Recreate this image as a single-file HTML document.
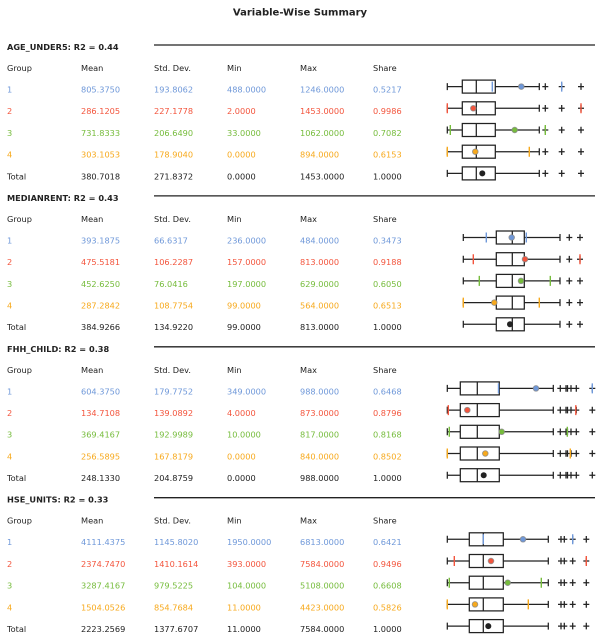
<!DOCTYPE html>
<html><head><meta charset="utf-8"><style>
html,body{margin:0;padding:0;background:#fff;}
svg{display:block;}
text{font-family:"DejaVu Sans","Liberation Sans",sans-serif;font-size:8.2px;fill:#222;}
.h{font-weight:bold;}
.c1{fill:#6f98d9}.c2{fill:#f3553d}.c3{fill:#76bc3c}.c4{fill:#f7a91c}
.bx{stroke:#222;stroke-width:1.25;fill:none}
.t1{stroke:#6f98d9;stroke-width:1.4}.t2{stroke:#f3553d;stroke-width:1.4}.t3{stroke:#76bc3c;stroke-width:1.4}.t4{stroke:#f7a91c;stroke-width:1.4}
.d{stroke:#888;stroke-width:0.9;stroke-opacity:.8}
</style></head><body>
<svg width="600" height="640" viewBox="0 0 600 640" xmlns="http://www.w3.org/2000/svg">
<defs>
<g id="b1" class="bx">
<path d="M447.3 -3.5V3.5M447.3 0H462.3M495.3 0H539.3M539.3 -3.5V3.5M476.3 -6.5V6.5M542.3 0h6M545.3 -3.3v6.6M558.7 0h6M561.7 -3.3v6.6M578 0h6M581 -3.3v6.6"/>
<rect x="462.3" y="-6.5" width="33" height="13"/>
</g>
<g id="b2" class="bx">
<path d="M463.3 -3.5V3.5M463.3 0H496.3M524.3 0H560M560 -3.5V3.5M512.3 -6.5V6.5M566.3 0h6M569.3 -3.3v6.6M577 0h6M580 -3.3v6.6"/>
<rect x="496.3" y="-6.5" width="28" height="13"/>
</g>
<g id="b3" class="bx">
<path d="M447.3 -3.5V3.5M447.3 0H460.3M499.3 0H553.3M553.3 -3.5V3.5M477.3 -6.5V6.5M557.3 0h6M560.3 -3.3v6.6M563 0h7.5M566 -3.3v6.6M567.5 -3.3v6.6M568 0h6M571 -3.3v6.6M573.3 0h6M576.3 -3.3v6.6M589.3 0h6M592.3 -3.3v6.6"/>
<rect x="460.3" y="-6.5" width="39" height="13"/>
</g>
<g id="b4" class="bx">
<path d="M447.3 -3.5V3.5M447.3 0H469.3M503.3 0H548.3M548.3 -3.5V3.5M483.3 -6.5V6.5M558 0h9.3M561 -3.3v6.6M564.3 -3.3v6.6M569.7 0h6M572.7 -3.3v6.6M583.3 0h6M586.3 -3.3v6.6"/>
<rect x="469.3" y="-6.5" width="34" height="13"/>
</g>
</defs>

<text x="300" y="15.5" text-anchor="middle" class="h" style="font-size:10px">Variable-Wise Summary</text>

<!-- Section 1 -->
<g>
<line x1="154" y1="45" x2="595" y2="45" stroke="#222" stroke-width="1.3"/>
<text x="7" y="50" class="h">AGE_UNDER5: R2 = 0.44</text>
<text x="7" y="71">Group</text><text x="81" y="71">Mean</text><text x="154" y="71">Std. Dev.</text><text x="227" y="71">Min</text><text x="300" y="71">Max</text><text x="373" y="71">Share</text>
<g><text x="7" y="92.5" class="c1">1</text><text x="81" y="92.5" class="c1">805.3750</text><text x="154" y="92.5" class="c1">193.8062</text><text x="227" y="92.5" class="c1">488.0000</text><text x="300" y="92.5" class="c1">1246.0000</text><text x="373" y="92.5" class="c1">0.5217</text></g>
<g><text x="7" y="114.2" class="c2">2</text><text x="81" y="114.2" class="c2">286.1205</text><text x="154" y="114.2" class="c2">227.1778</text><text x="227" y="114.2" class="c2">2.0000</text><text x="300" y="114.2" class="c2">1453.0000</text><text x="373" y="114.2" class="c2">0.9986</text></g>
<g><text x="7" y="135.9" class="c3">3</text><text x="81" y="135.9" class="c3">731.8333</text><text x="154" y="135.9" class="c3">206.6490</text><text x="227" y="135.9" class="c3">33.0000</text><text x="300" y="135.9" class="c3">1062.0000</text><text x="373" y="135.9" class="c3">0.7082</text></g>
<g><text x="7" y="157.6" class="c4">4</text><text x="81" y="157.6" class="c4">303.1053</text><text x="154" y="157.6" class="c4">178.9040</text><text x="227" y="157.6" class="c4">0.0000</text><text x="300" y="157.6" class="c4">894.0000</text><text x="373" y="157.6" class="c4">0.6153</text></g>
<g><text x="7" y="179.3">Total</text><text x="81" y="179.3">380.7018</text><text x="154" y="179.3">271.8372</text><text x="227" y="179.3">0.0000</text><text x="300" y="179.3">1453.0000</text><text x="373" y="179.3">1.0000</text></g>

<g transform="translate(0,86.6)"><use href="#b1"/><path class="t1" d="M492.3 -5V5M561.7 -5V5"/><circle cx="521.3" cy="0" r="2.8" class="c1 d"/></g>
<g transform="translate(0,108.3)"><use href="#b1"/><path class="t2" d="M447.3 -5V5M581 -5V5"/><circle cx="473.3" cy="0" r="2.8" class="c2 d"/></g>
<g transform="translate(0,130)"><use href="#b1"/><path class="t3" d="M450.3 -5V5M545.3 -5V5"/><circle cx="514.7" cy="0" r="2.8" class="c3 d"/></g>
<g transform="translate(0,151.7)"><use href="#b1"/><path class="t4" d="M447.3 -5V5M529.3 -5V5"/><circle cx="475.3" cy="0" r="2.8" class="c4 d"/></g>
<g transform="translate(0,173.4)"><use href="#b1"/><circle cx="482.3" cy="0" r="3" fill="#222"/></g>
</g>

<!-- Section 2 -->
<g transform="translate(0,150.9)">
<line x1="154" y1="45" x2="595" y2="45" stroke="#222" stroke-width="1.3"/>
<text x="7" y="50" class="h">MEDIANRENT: R2 = 0.43</text>
<text x="7" y="71">Group</text><text x="81" y="71">Mean</text><text x="154" y="71">Std. Dev.</text><text x="227" y="71">Min</text><text x="300" y="71">Max</text><text x="373" y="71">Share</text>
<g><text x="7" y="92.5" class="c1">1</text><text x="81" y="92.5" class="c1">393.1875</text><text x="154" y="92.5" class="c1">66.6317</text><text x="227" y="92.5" class="c1">236.0000</text><text x="300" y="92.5" class="c1">484.0000</text><text x="373" y="92.5" class="c1">0.3473</text></g>
<g><text x="7" y="114.2" class="c2">2</text><text x="81" y="114.2" class="c2">475.5181</text><text x="154" y="114.2" class="c2">106.2287</text><text x="227" y="114.2" class="c2">157.0000</text><text x="300" y="114.2" class="c2">813.0000</text><text x="373" y="114.2" class="c2">0.9188</text></g>
<g><text x="7" y="135.9" class="c3">3</text><text x="81" y="135.9" class="c3">452.6250</text><text x="154" y="135.9" class="c3">76.0416</text><text x="227" y="135.9" class="c3">197.0000</text><text x="300" y="135.9" class="c3">629.0000</text><text x="373" y="135.9" class="c3">0.6050</text></g>
<g><text x="7" y="157.6" class="c4">4</text><text x="81" y="157.6" class="c4">287.2842</text><text x="154" y="157.6" class="c4">108.7754</text><text x="227" y="157.6" class="c4">99.0000</text><text x="300" y="157.6" class="c4">564.0000</text><text x="373" y="157.6" class="c4">0.6513</text></g>
<g><text x="7" y="179.3">Total</text><text x="81" y="179.3">384.9266</text><text x="154" y="179.3">134.9220</text><text x="227" y="179.3">99.0000</text><text x="300" y="179.3">813.0000</text><text x="373" y="179.3">1.0000</text></g>

<g transform="translate(0,86.6)"><use href="#b2"/><path class="t1" d="M486.3 -5V5M526.3 -5V5"/><circle cx="511.7" cy="0" r="2.8" class="c1 d"/></g>
<g transform="translate(0,108.3)"><use href="#b2"/><path class="t2" d="M473.3 -5V5M580 -5V5"/><circle cx="525" cy="0" r="2.8" class="c2 d"/></g>
<g transform="translate(0,130)"><use href="#b2"/><path class="t3" d="M479.3 -5V5M550.3 -5V5"/><circle cx="521" cy="0" r="2.8" class="c3 d"/></g>
<g transform="translate(0,151.7)"><use href="#b2"/><path class="t4" d="M463.3 -5V5M539.3 -5V5"/><circle cx="494.3" cy="0" r="2.8" class="c4 d"/></g>
<g transform="translate(0,173.4)"><use href="#b2"/><circle cx="510" cy="0" r="3" fill="#222"/></g>
</g>

<!-- Section 3 -->
<g transform="translate(0,301.8)">
<line x1="154" y1="45" x2="595" y2="45" stroke="#222" stroke-width="1.3"/>
<text x="7" y="50" class="h">FHH_CHILD: R2 = 0.38</text>
<text x="7" y="71">Group</text><text x="81" y="71">Mean</text><text x="154" y="71">Std. Dev.</text><text x="227" y="71">Min</text><text x="300" y="71">Max</text><text x="373" y="71">Share</text>
<g><text x="7" y="92.5" class="c1">1</text><text x="81" y="92.5" class="c1">604.3750</text><text x="154" y="92.5" class="c1">179.7752</text><text x="227" y="92.5" class="c1">349.0000</text><text x="300" y="92.5" class="c1">988.0000</text><text x="373" y="92.5" class="c1">0.6468</text></g>
<g><text x="7" y="114.2" class="c2">2</text><text x="81" y="114.2" class="c2">134.7108</text><text x="154" y="114.2" class="c2">139.0892</text><text x="227" y="114.2" class="c2">4.0000</text><text x="300" y="114.2" class="c2">873.0000</text><text x="373" y="114.2" class="c2">0.8796</text></g>
<g><text x="7" y="135.9" class="c3">3</text><text x="81" y="135.9" class="c3">369.4167</text><text x="154" y="135.9" class="c3">192.9989</text><text x="227" y="135.9" class="c3">10.0000</text><text x="300" y="135.9" class="c3">817.0000</text><text x="373" y="135.9" class="c3">0.8168</text></g>
<g><text x="7" y="157.6" class="c4">4</text><text x="81" y="157.6" class="c4">256.5895</text><text x="154" y="157.6" class="c4">167.8179</text><text x="227" y="157.6" class="c4">0.0000</text><text x="300" y="157.6" class="c4">840.0000</text><text x="373" y="157.6" class="c4">0.8502</text></g>
<g><text x="7" y="179.3">Total</text><text x="81" y="179.3">248.1330</text><text x="154" y="179.3">204.8759</text><text x="227" y="179.3">0.0000</text><text x="300" y="179.3">988.0000</text><text x="373" y="179.3">1.0000</text></g>

<g transform="translate(0,86.6)"><use href="#b3"/><path class="t1" d="M498.5 -5V5M592.3 -5V5"/><circle cx="536" cy="0" r="2.8" class="c1 d"/></g>
<g transform="translate(0,108.3)"><use href="#b3"/><path class="t2" d="M448.3 -5V5M575.8 -5V5"/><circle cx="467.3" cy="0" r="2.8" class="c2 d"/></g>
<g transform="translate(0,130)"><use href="#b3"/><path class="t3" d="M449.3 -5V5M567.3 -5V5"/><circle cx="501.7" cy="0" r="2.8" class="c3 d"/></g>
<g transform="translate(0,151.7)"><use href="#b3"/><path class="t4" d="M447.3 -5V5M570.3 -5V5"/><circle cx="485.3" cy="0" r="2.8" class="c4 d"/></g>
<g transform="translate(0,173.4)"><use href="#b3"/><circle cx="483.7" cy="0" r="3" fill="#222"/></g>
</g>

<!-- Section 4 -->
<g transform="translate(0,452.7)">
<line x1="154" y1="45" x2="595" y2="45" stroke="#222" stroke-width="1.3"/>
<text x="7" y="50" class="h">HSE_UNITS: R2 = 0.33</text>
<text x="7" y="71">Group</text><text x="81" y="71">Mean</text><text x="154" y="71">Std. Dev.</text><text x="227" y="71">Min</text><text x="300" y="71">Max</text><text x="373" y="71">Share</text>
<g><text x="7" y="92.5" class="c1">1</text><text x="81" y="92.5" class="c1">4111.4375</text><text x="154" y="92.5" class="c1">1145.8020</text><text x="227" y="92.5" class="c1">1950.0000</text><text x="300" y="92.5" class="c1">6813.0000</text><text x="373" y="92.5" class="c1">0.6421</text></g>
<g><text x="7" y="114.2" class="c2">2</text><text x="81" y="114.2" class="c2">2374.7470</text><text x="154" y="114.2" class="c2">1410.1614</text><text x="227" y="114.2" class="c2">393.0000</text><text x="300" y="114.2" class="c2">7584.0000</text><text x="373" y="114.2" class="c2">0.9496</text></g>
<g><text x="7" y="135.9" class="c3">3</text><text x="81" y="135.9" class="c3">3287.4167</text><text x="154" y="135.9" class="c3">979.5225</text><text x="227" y="135.9" class="c3">104.0000</text><text x="300" y="135.9" class="c3">5108.0000</text><text x="373" y="135.9" class="c3">0.6608</text></g>
<g><text x="7" y="157.6" class="c4">4</text><text x="81" y="157.6" class="c4">1504.0526</text><text x="154" y="157.6" class="c4">854.7684</text><text x="227" y="157.6" class="c4">11.0000</text><text x="300" y="157.6" class="c4">4423.0000</text><text x="373" y="157.6" class="c4">0.5826</text></g>
<g><text x="7" y="179.3">Total</text><text x="81" y="179.3">2223.2569</text><text x="154" y="179.3">1377.6707</text><text x="227" y="179.3">11.0000</text><text x="300" y="179.3">7584.0000</text><text x="373" y="179.3">1.0000</text></g>

<g transform="translate(0,86.6)"><use href="#b4"/><path class="t1" d="M483.3 -5V5M572.7 -5V5"/><circle cx="523" cy="0" r="2.8" class="c1 d"/></g>
<g transform="translate(0,108.3)"><use href="#b4"/><path class="t2" d="M454.3 -5V5M586.3 -5V5"/><circle cx="491" cy="0" r="2.8" class="c2 d"/></g>
<g transform="translate(0,130)"><use href="#b4"/><path class="t3" d="M449.3 -5V5M541.3 -5V5"/><circle cx="507.7" cy="0" r="2.8" class="c3 d"/></g>
<g transform="translate(0,151.7)"><use href="#b4"/><path class="t4" d="M447.3 -5V5M528.3 -5V5"/><circle cx="475" cy="0" r="2.8" class="c4 d"/></g>
<g transform="translate(0,173.4)"><use href="#b4"/><circle cx="488.3" cy="0" r="3" fill="#222"/></g>
</g>
</svg>
</body></html>
